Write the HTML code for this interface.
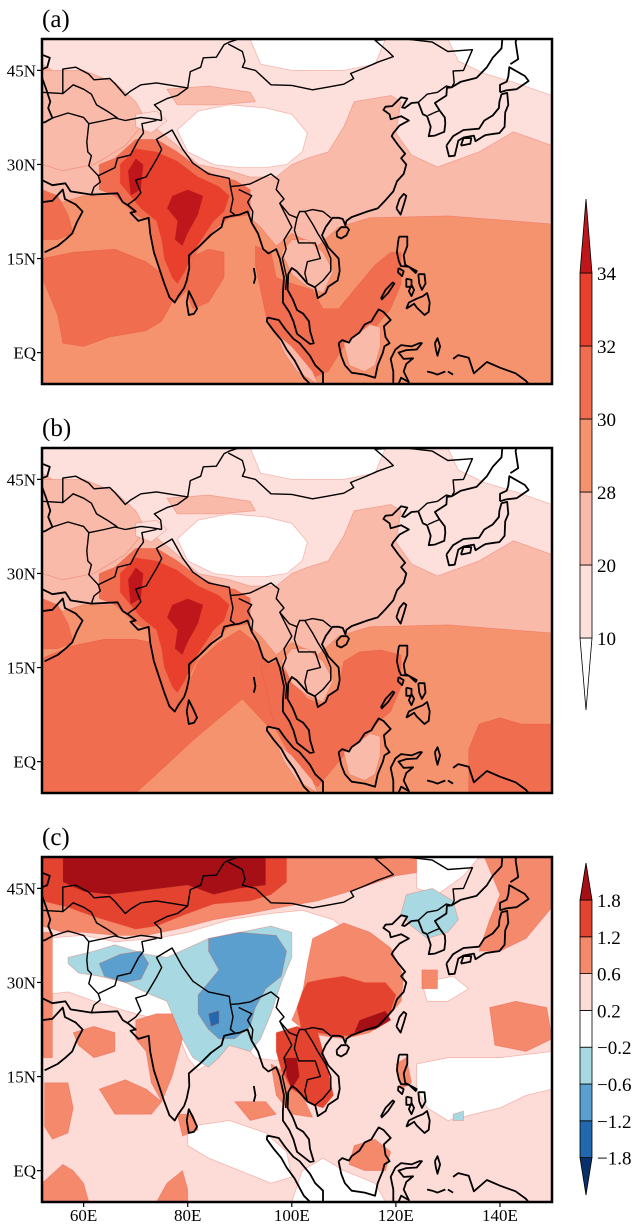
<!DOCTYPE html>
<html><head><meta charset="utf-8"><style>
html,body{margin:0;padding:0;background:#fff;}
svg{display:block;}
text{font-family:"Liberation Serif",serif;}
</style></head><body>
<svg id="fig" xmlns="http://www.w3.org/2000/svg" width="644" height="1225" viewBox="0 0 644 1225"></svg>
<script>
// ---- colorbar data ----
const levelsA = ['10','20','28','30','32','34'];
const colorsA = ['#ffffff','#fde0dc','#fabaaa','#f6936f','#f06d50','#e8402d','#bf161c'];
const levelsC = ['−1.8','−1.2','−0.6','−0.2','0.2','0.6','1.2','1.8'];
const colorsC = ['#08306b','#2168ae','#5a9fcd','#a8d8e2','#ffffff','#fddcd8','#f4896c','#e4432f','#a50f15'];
const latTicks = [45,30,15,0];
const latLabels = ['45N','30N','15N','EQ'];
const lonTicks = [60,80,100,120,140];
const lonLabels = ['60E','80E','100E','120E','140E'];

const NS='http://www.w3.org/2000/svg';
const svg=document.getElementById('fig');
function el(tag,attrs,parent){const e=document.createElementNS(NS,tag);for(const k in attrs)e.setAttribute(k,attrs[k]);(parent||svg).appendChild(e);return e;}
const X0=42,X1=552,LON0=52,LON1=150,LAT0=-5,LAT1=50;
function px(lon){return X0+(lon-LON0)*(X1-X0)/(LON1-LON0);}
function mkY(top){return lat=>top+(LAT1-lat)*345/(LAT1-LAT0);}
function pts(arr,fy){return arr.map(p=>px(p[0]).toFixed(1)+','+fy(p[1]).toFixed(1)).join(' ');}

// ---- coastlines & borders ----
const coasts=[
[[52,27.5],[54,26.7],[56.5,27],[57.5,25.7],[61.5,25.2],[66.5,25.4],[67.5,24],[68.5,23.5],[70,22.5],[69,22.3],[70.5,21],[72.5,21.5],[72.8,19],[73.5,16],[74.5,13.5],[75.5,11],[76.5,8.8],[77.5,8],[78.2,9],[79.3,10.3],[79.8,11.5],[80.3,13.5],[80.2,15.5],[81.3,16.3],[82.3,17],[84.5,18.8],[86.5,20],[87,21.5],[88.5,21.8],[90,22],[91.5,22.5],[92.3,20.7],[93.5,19],[94.5,16.5],[95.5,15.8],[97,16.5],[97.7,15],[98.5,12],[98.3,9.5],[98.3,8],[99.5,6.5],[100.3,5],[101,3],[103.5,1.4],[104.2,1.5],[103.5,3.5],[103.3,5],[102.2,6.2],[101,6.8],[100.2,8.5],[99.2,10],[99.3,12.5],[100,13.5],[100.9,13],[102,12],[103,11],[104.5,10.4],[105,8.7],[106.5,9.5],[107,10.5],[108.8,11.5],[109.2,13],[109,15],[107,16.8],[105.8,18.7],[106.5,20],[107.8,21.5],[109,21.5],[109.8,21.3],[110.3,20.3],[110.5,21],[111.5,21.6],[113.5,22.2],[114.5,22.5],[116.5,23],[118,24.3],[119.5,25.7],[120.2,27.3],[121.5,28.5],[122,30],[121,31],[121.8,31.7],[120.5,33],[119.2,34.5],[119.5,35],[120.7,36.2],[122.5,37],[121,37.7],[119,37.2],[118.8,38],[117.6,38.7],[118,39.2],[119.3,39.3],[121,40.7],[122.2,40.5],[121.2,39.1],[121.7,39],[123,39.8],[124.3,39.9],[125.2,38],[126,37.7],[126.7,36],[126.3,34.5],[127.5,34.6],[129.3,35.2],[129.5,36.5],[129.4,37.5],[128.4,38.6],[127.5,39.8],[129.7,41],[129.8,42.2],[130.7,42.3],[132.5,43.2],[135.5,43.8],[137.5,45.5],[138.6,47],[140.3,48.5],[140.5,50.5]],
[[52,47.5],[53.5,47],[53,45.5],[51.5,45],[52.8,42],[53.6,40],[53.2,39],[54,37.4],[52.5,36.7],[52,36.7]],
[[52,24],[54,24.2],[56,26],[56.4,24.5],[58.5,23.6],[59.8,22.5],[58.7,20.8],[57.8,19],[56.5,18],[55,17],[52.5,16]],
[[79.8,8],[80.2,9.8],[81,8.5],[81.8,7],[81.2,6.2],[80.2,6],[79.8,8]],
[[108.6,19.2],[109.5,20],[110.6,20],[111,19.6],[110.5,18.7],[109.5,18.2],[108.7,18.5],[108.6,19.2]],
[[120.1,23],[120.7,24.5],[121.5,25.3],[122,25],[121.6,23.8],[120.9,22],[120.1,23]],
[[129.7,33],[130.2,31.3],[131.3,31.4],[132,33.8],[133,34.3],[135,34.6],[135.3,33.7],[136.8,34.5],[137.3,34.7],[139,34.9],[139.9,35],[140.9,36],[141,38.3],[141.6,39.5],[141.4,41.4],[140.3,41.2],[139.9,40],[139.8,39],[138.6,37.8],[137,37],[136,35.7],[133,35.5],[131,34.5],[129.7,33]],
[[132.5,33],[134.3,33.3],[134.5,34.2],[133,34.2],[132.5,33]],
[[140,41.5],[141.2,41.8],[143.2,42],[145.5,43.3],[144.8,44.1],[141.8,45.5],[141.6,44],[141.3,43.2],[140,42.7],[140,41.5]],
[[142,46],[143.5,46.8],[143,49.5],[143.5,51]],
[[95.3,5.6],[97.5,5.2],[98.7,3.8],[100.3,2.2],[101.5,1.5],[103.5,-0.5],[104.5,-2],[106,-3.2],[106,-5.5],[104.5,-5.8],[102.3,-4],[100.5,-1.2],[99,0.5],[98,2],[96.5,3.5],[95.2,5],[95.3,5.6]],
[[109,1.5],[109.5,-0.5],[110.2,-2],[111.5,-3.2],[114,-3.5],[116,-4],[116.5,-2],[117.5,0],[117.8,1],[118.8,1.5],[118,2.5],[117.7,4.2],[119,5.2],[117.6,6.5],[116.7,6.9],[116,6],[115.3,5],[114,4.5],[113,3.2],[111.5,2.3],[111,1.6],[109.7,2],[109,1.5]],
[[119.5,-5],[119.5,-3],[119,-1],[119.9,0.5],[121,1.2],[123,1],[124.5,1.5],[125,1.5],[124,0.5],[122,0.4],[120.5,0],[121.5,-1],[123.3,-0.9],[122,-1.8],[121.5,-3],[122.5,-4.7],[121,-4],[120.5,-5]],
[[127.5,1.5],[128,2.3],[128.5,1],[128,-0.5],[127.7,0.5],[127.5,1.5]],
[[131,-1],[132,-0.4],[134,-0.8],[135,-3.3],[137.5,-1.5],[140,-2.4],[143,-3.3],[145,-4.5],[146,-5.5],[147,-6]],
[[120.6,18.5],[122.2,18.5],[122.2,17],[121.5,15.5],[121.8,14],[124,13],[123.8,12.7],[122.5,13.7],[121,13.8],[120.6,14.5],[120.2,16],[120.4,17.5],[120.6,18.5]],
[[122,7],[123.5,7.8],[124,7.2],[125.5,6],[126.3,6.5],[126.5,8],[126,9.5],[125.2,9],[124,8.6],[123.5,8.4],[122.5,8],[122,7]],
[[124.3,12.5],[125.5,12.5],[125.7,11],[125,10],[124.5,11],[124.3,12.5]],
[[122,11.8],[123,11.6],[123,10.5],[122,10.5],[122,11.8]],
[[123,10.8],[123.5,10],[123,9],[122.5,9.8],[123,10.8]],
[[120.5,13.5],[121.5,13],[121.2,12.2],[120.4,12.8],[120.5,13.5]],
[[117.2,8.4],[118.5,9.5],[119.7,11],[119.4,11.2],[118,10],[117.1,8.6]],
[[92.7,13.5],[93,12],[92.7,11]],
[[126,-3],[127,-3.2],[128,-3.5],[129.5,-3]],
[[130,-3],[131,-3.5]]
];
const borders=[
[[61.5,25.2],[62,26.4],[63.2,27.2],[62.8,28.2],[61,29.8],[61.5,31.4],[60.8,32],[60.6,33.6],[61,36.5],[60,37.5],[57,38.2],[54,37.4]],
[[61,36.5],[64,37],[66,37.4],[68,37],[71,37.5],[73,37.3],[75,37]],
[[62.8,28.2],[66,29.5],[66.5,31],[69,31.5],[70.5,33.9],[71.5,35],[71.2,36.5],[74,37]],
[[68.5,23.6],[70,24.5],[71,25.5],[70,27.5],[72,28],[74,30.8],[75,32.4],[74,34],[77,35.5],[78,34],[79,32.5],[81,30.2],[84,28.5],[88,27.8],[88.2,26.5],[89.8,26.6],[92,26.9],[94,27.7],[96,28.5],[97.5,27.5],[97,26],[98.5,24.5],[97.7,23.8],[99.5,22],[101,21.5],[101.5,22.5],[102.5,22.5],[104,22.8],[106,22.5],[107.5,21.5]],
[[88.2,26.5],[88.7,24.5],[88.2,22.5],[89,22]],
[[89.8,26],[92.3,25],[91.5,24],[92.5,22.5],[92.3,20.7]],
[[97.7,23.8],[100,20],[98.5,18],[98.9,16.5],[98.2,15],[99,12],[98.8,10]],
[[101,21.5],[100.5,19.5],[101.3,17.5],[104.5,17.5],[105.5,15],[103,14.5],[102.5,12.7],[103,11]],
[[102.5,22.5],[104,20.5],[105,19],[106.5,17],[107.5,15],[107.5,13],[106,11.5],[104.5,10.5]],
[[75,37],[74.8,38.5],[73.6,39.5],[76,40.5],[78,41],[80,42.2],[80.5,44.8],[82.5,45.5],[83,47],[85.5,47.1],[87,49.1],[88,49.5],[92,50.6]],
[[87.8,49.2],[90.5,48],[91,46.5],[90.5,45.5],[93,45],[96,42.7],[100,42.6],[104,41.9],[106.7,42.3],[110,42.8],[111.9,43.7],[111.3,44.5],[114,45.4],[116.5,46.3],[119.5,47.2],[118.5,48],[116,49.8],[118,49.9],[120,52]],
[[120,52],[122,50],[127,49.5],[130,48],[134.7,48.3],[133,45],[131,44.9],[131.2,43],[130.7,42.3]],
[[124.3,39.9],[126,41.2],[128,41.5],[129.7,42.5],[130.7,42.3]],
[[126.2,37.8],[127.5,38.3],[128.4,38.6]],
[[52,41.5],[56,41.3],[56,45.2],[58.5,45.5],[61,44.4],[62,43.5],[65,43.7],[66,42.9],[68,41],[69,41.7],[71,42.7],[74,43],[80,42.2]],
[[56,41.3],[58,42.7],[60,42],[61.5,41.2],[62.5,39.5],[64.5,38.5],[66.5,37.4]]
];

// ---- field regions (colour class index, lon/lat polygon) ----
const landAB=[
[2,[[52,50],[150,50],[150,20.5],[130,21.8],[115,21.5],[109,20],[105,17],[100,19],[97,17],[94,20],[90,23],[86,22],[80,27],[75,30],[70,27],[66,25],[60,25],[56,24],[52,26]]],
[2,[[98,16],[100,18],[103,18],[106,16],[108,13],[106,9.5],[103,10.5],[100,12.5]]],
[2,[[110,1.5],[111,-2],[114,-3],[116,-2],[117,1],[117,4],[115,4.5],[112,2.5]]],
[2,[[97,3],[100,1],[102.5,-1.5],[104,-3],[105,-5],[101,-3],[98.5,0]]],
[1,[[52,50],[150,50],[150,33],[142.6,35.2],[136,32],[128,29.6],[123,31.5],[120,35],[121,40],[119,41],[112,40],[110,36],[107,32],[103,31],[100,30],[97,28],[92,28],[88,29],[82,30],[78,33],[75,35],[72,37],[68,39],[62,42],[56,44],[52,46]]],
[0,[[78,35.5],[82,38.5],[88,39.5],[95,39],[100,38],[103,35],[102,32],[99,30],[95,29.5],[90,29.5],[85,30],[80,32]]],
[0,[[92,50],[118,50],[116,46],[110,45],[100,45],[94,46]]],
[0,[[130,50],[150,50],[150,41],[143,43],[137,44.5],[132,46.5]]],
[2,[[76,42],[84,42.5],[92,41.5],[93,40],[86,39.5],[78,39.5]]],
[2,[[52,45],[60,45],[66,43],[70,40],[72,37],[68,33],[62,30],[56,29],[52,30]]],
[1,[[70,38],[74,38.5],[76,37],[73,35],[70,36]]],
[4,[[52,26],[55,25],[57,22],[58,19],[55,18],[52,18]]],
[4,[[63,30],[66,31],[70,34],[74,34],[78,32],[82,29.5],[86,28],[89,27.5],[92,26],[92,22],[88,21.5],[85,19.5],[82,16.5],[80.2,13.5],[80,10],[77.5,8],[76,10],[74.5,14],[73,18],[72.5,21],[70,22],[68,23.5],[66,25],[63,26]]],
[5,[[67,30],[70,32.5],[74,32],[78,30.5],[82,28],[86,26.5],[88,25],[87,22.5],[85,21],[83,18.5],[81,16],[79.5,13],[78,11],[77,12],[75.5,15],[75,18],[74,21],[71,23],[69,25],[67,27]]],
[6,[[77,25],[80,26],[83,25],[82,22],[80,19],[79,17],[77.5,18],[78,21],[76,23]]],
[6,[[68.5,29],[70,31],[71.5,30],[71,26],[69,25]]]
];
const oceanA=[
[4,[[52,15],[58,16],[66,16.5],[72,14.5],[76,12],[77,8],[75,5],[72,3.5],[65,2.5],[60,1],[56,1.5],[55,6],[53,10],[52,12]]],
[4,[[80,15],[84,16.5],[87,16],[87,12],[84,8],[81,7],[80,9]]],
[4,[[93,17],[96,16],[97,12],[100,11],[104,10],[106,7],[109,7],[112,10],[116,14],[119,16],[121,16],[121,11],[119,7],[116,4],[113,2],[110,1],[107,-3],[104,-4],[101,0],[97,3],[95,6],[94,10],[93,14]]]
];
const oceanB=[
[4,[[52,16.5],[58,18.5],[64,19.5],[70,19.5],[73,19],[76,14],[78,9],[80,12],[82,16],[86,19],[90,21],[93,19],[95,16],[97,12],[98,8],[99,5],[96,5.5],[95,6],[90.5,10],[81,3.4],[74,-2],[70,-5],[52,-5]]],
[4,[[94,15],[97,16],[100,13],[103,10],[106,9],[109,12],[110,16],[113,17.5],[117,17.8],[121,17],[121,12],[119,8],[117,6.6],[114,4],[111,2],[109,0],[107,-2],[105,-4],[102,-2],[99,2],[97,5],[96,8],[95,12]]],
[4,[[134,-5],[134,2],[136,6],[140,7],[144,6],[150,6],[150,-5]]]
];
const regionsC=[
[6,[[52,50],[128,50],[128,48],[120,47],[113,45],[105,43],[98,42],[92,41],[85,40],[78,38.5],[72,37.5],[66,37.5],[60,38],[56,38],[52,39]]],
[7,[[52,50],[99,50],[99,46],[96,44],[92,43],[85,42.5],[80,41],[74,39],[70,38.5],[66,39.5],[62,40.5],[57,42],[52,43]]],
[8,[[56,50],[95,50],[95,45.5],[90,45],[85,44],[80,45.5],[75,45],[70,44.5],[65,44],[60,44.5],[56,46]]],
[4,[[124,50],[136,50],[133,47],[128,44],[124,45]]],
[6,[[137,50],[150,50],[150,42],[145,37],[140,35],[136,35],[138,40],[140,44]]],
[4,[[52,37],[60,37.5],[66,36.5],[74,37],[80,38],[88,40],[96,41],[102,41.5],[108,40],[112,37],[110,32],[108,28],[105,24],[102,20],[97,17.5],[93,18],[90,21],[86,20],[84,17],[82,16],[80,18],[78,22],[75,24],[70,25],[66,26],[62,27],[57,28.5],[52,28]]],
[6,[[52,38],[54,38],[54,18],[52,18]]],
[3,[[57,34],[62,35],[66,36],[72,34.5],[76,34],[84,37],[90,38],[96,39],[100,38],[100,34],[98,30],[96,25],[94,21],[92,19],[88,20],[86,18],[84,16.5],[81,18],[79,21],[78,23],[76,27],[73,28],[68,30],[63,31],[59,31.5],[57,33]]],
[2,[[84,37],[90,38],[97,37.5],[99,35],[98,31],[95,29],[93,26],[92,23],[89,21],[86,21],[84,22.5],[82,25],[82,28],[84,30],[86,32],[84,35]]],
[2,[[63,33],[67,34.5],[71,35],[72.5,33],[71,30.5],[68,30],[64,31]]],
[1,[[84,25],[86,25.5],[86,23.5],[84.5,23]]],
[3,[[122,44],[127,45],[131,43],[132,40],[130,38],[126,37],[123,39],[121,41]]],
[6,[[104,37],[110,39.5],[115,38],[119,35.5],[121.5,31],[121,27],[118,24],[115,22],[110,21],[106,21.5],[103,22],[100,24],[102,28],[103,33]]],
[6,[[96,17],[97,12],[100,9],[104,8.5],[102,12],[98,16]]],
[7,[[103,30],[106,30.5],[110,31],[114,30],[118,30],[120,28],[119,25.5],[116,23],[112,21.5],[108,21.5],[105,22],[102,22],[101,26],[102,28.5]]],
[7,[[97,22],[101,23],[105,22],[106,19],[107,16],[108,12],[106,10],[104,10.5],[102,12],[100,13],[98,16],[97,19]]],
[8,[[98.5,18],[101,18],[101.5,15],[100,13],[99,15]]],
[8,[[113,24],[118,25.5],[119,24],[116,22.5],[112,22]]],
[4,[[124,17],[130,18],[140,18],[150,19],[150,13],[145,12],[140,10],[135,9],[130,8],[126,10],[124,13]]],
[4,[[125,30],[131,31],[134,29],[130,27],[126,27]]],
[4,[[80,7],[88,8],[95,6],[99,3],[100,-1],[96,-2],[90,0],[84,2],[80,4]]],
[4,[[100,-5],[102,0],[106,2],[110,0],[116,-2],[118,-5]]],
[6,[[52.5,14],[57,14],[58,10],[57,6],[54,5],[52.5,7]]],
[6,[[63,13],[68,14.5],[72,13],[75,11],[73,9],[66,9]]],
[6,[[70,24],[74,25],[77,25],[79,21],[77,15],[75,11],[73,14],[72,19],[70,21]]],
[6,[[58,22],[62,23],[66,22],[66,19],[62,18],[59,20]]],
[6,[[78,9],[81,9],[82,6.5],[79,5.5]]],
[6,[[89,11],[95,11],[97,9],[92,8]]],
[6,[[52,-2],[56,1],[58,0],[60,-2],[61,-5],[52,-5]]],
[6,[[74,-5],[76,-2],[79,0],[80,-3],[80,-5]]],
[6,[[138,26],[143,27],[149,26],[150,21],[145,19],[139,20]]],
[6,[[112,4],[116,5],[119,3],[118,0],[114,0],[111,1]]],
[6,[[125,32],[128,32],[128,29],[125,29]]],
[6,[[120,17],[122,18],[123,14],[121,13]]],
[3,[[131,9],[133,9.5],[133,8],[131,8]]]
];

function drawPanel(idx,top,label,base,baseColors,regs){
  const fy=mkY(top);
  const g=el('g',{});
  
  
  const cp=el('clipPath',{id:'clip'+idx},g);
  el('rect',{x:X0,y:top,width:X1-X0,height:345},cp);
  const field=el('g',{'clip-path':'url(#clip'+idx+')'},g);
  
  
  el('rect',{x:X0,y:top,width:X1-X0,height:345,fill:baseColors[base]},field);
  regs.forEach(r=>{
    const p=el('polygon',{points:pts(r[1],fy),fill:baseColors[r[0]],stroke:'rgba(230,80,60,0.35)','stroke-width':0.8,'stroke-linejoin':'round'},field);
    
    
  });
  const cg=el('g',{fill:'none',stroke:'#000','stroke-width':1.8,'stroke-linejoin':'round'},field);
  
  
  coasts.forEach(c=>el('polyline',{points:pts(c,fy)},cg));
  borders.forEach(c=>el('polyline',{points:pts(c,fy),'stroke-width':1.4},cg));
  const fr=el('rect',{x:X0,y:top,width:X1-X0,height:345,fill:'none',stroke:'#000','stroke-width':2.5},g);
  
  
  latTicks.forEach((lt,i)=>{
    const y=fy(lt);
    el('line',{x1:X0-5,x2:X0,y1:y,y2:y,stroke:'#000','stroke-width':1.2},g);
    const t=el('text',{x:X0-6,y:y+6,'text-anchor':'end','font-size':17},g);
    
    
    t.textContent=latLabels[i];
  });
  const lt=el('text',{x:42,y:top-12,'font-size':25},g);
  
  
  lt.textContent='('+label+')';
}
const colorsAB=colorsA;
drawPanel(0,39,'a',3,colorsAB,oceanA.concat(landAB));
drawPanel(1,448,'b',3,colorsAB,oceanB.concat(landAB));
drawPanel(2,857,'c',5,colorsC,regionsC);
lonTicks.forEach((ln,i)=>{
  const x=px(ln);
  el('line',{x1:x,x2:x,y1:1202,y2:1207,stroke:'#000','stroke-width':1.2});
  const t=el('text',{x:x,y:1221,'text-anchor':'middle','font-size':17});
  
  
  t.textContent=lonLabels[i];
});

function colorbar(name,levels,colors,firstB,step,tipTop,tipBot){
  const g=el('g',{});
  
  
  const x0=580,x1=592,n=levels.length;
  const lastB=firstB+(n-1)*step;
  el('polygon',{points:`${x0},${lastB} ${x1},${lastB} ${(x0+x1)/2},${tipBot}`,fill:colors[0],stroke:'#000','stroke-width':0.8},g);
  for(let i=0;i<n-1;i++){
    const yb=lastB-i*step;
    el('rect',{x:x0,y:yb-step,width:x1-x0,height:step,fill:colors[i+1],stroke:'#000','stroke-width':0.8},g);
  }
  el('polygon',{points:`${x0},${firstB} ${x1},${firstB} ${(x0+x1)/2},${tipTop}`,fill:colors[n],stroke:'#000','stroke-width':0.8},g);
  levels.forEach((lv,i)=>{
    const y=lastB-i*step;
    const t=el('text',{x:597,y:y+7,'font-size':19,'font-family':'Liberation Sans, sans-serif'},g);
    
    
    t.textContent=lv;
  });
}
colorbar('colorbar-ab',levelsA,colorsA,273,73,199,710);
colorbar('colorbar-c',levelsC,colorsC,900,36.8,863,1195);
</script>
</body></html>
